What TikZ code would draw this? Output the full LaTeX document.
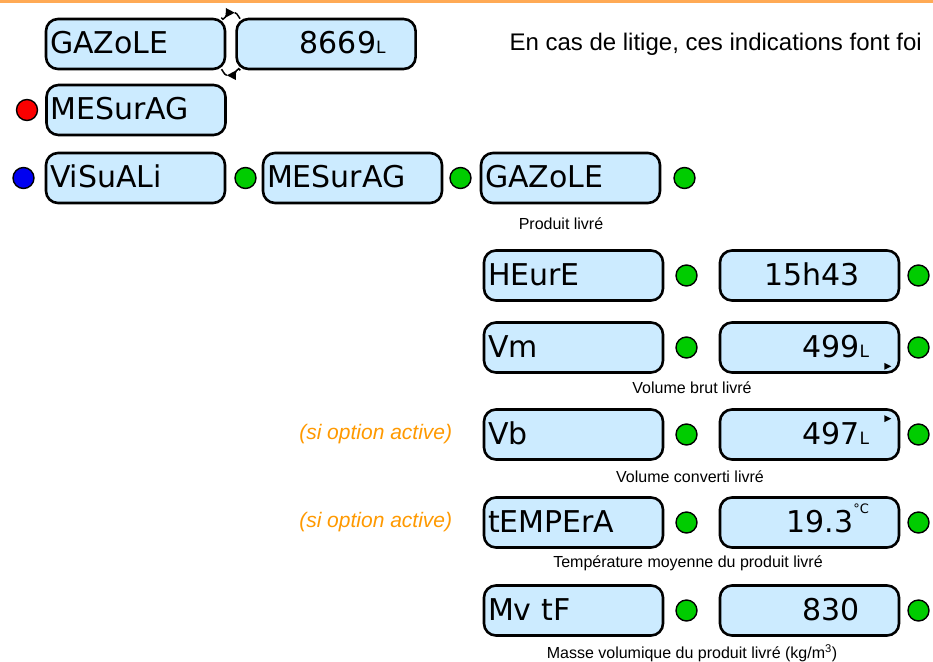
\documentclass[tikz,border=0pt]{standalone}
\usepackage{fontspec}
\setmainfont{Liberation Sans}
\newfontfamily\lcdfont{DejaVu Sans}
\usetikzlibrary{positioning,calc,arrows.meta}

\definecolor{lcdblue}{RGB}{204,235,255}
\definecolor{ledgreen}{RGB}{0,204,0}
\definecolor{ledred}{RGB}{250,0,0}
\definecolor{ledblue}{RGB}{0,0,240}
\definecolor{optorange}{RGB}{255,153,0}
\definecolor{barorange}{RGB}{255,170,85}

\newcommand{\unitsym}[1]{{\fontsize{17}{17}\selectfont #1}}
\newcommand{\degsym}{\raisebox{19pt}{\fontsize{13}{13}\selectfont °C}}

\tikzset{
  lcd/.style={draw, line width=2.6pt, rounded corners=12pt, fill=lcdblue,
    minimum width=179pt, minimum height=50pt, inner sep=0pt,
    text height=19pt, text depth=0pt, font=\lcdfont\fontsize{30}{30}\selectfont},
  menu/.style={lcd, text width=171pt, align=left},
  value/.style={lcd, text width=119pt, align=right},
  led/.style={circle, draw, line width=1.4pt, minimum size=21pt, inner sep=0pt, fill=ledgreen},
  note/.style={font=\fontsize{16}{16}\selectfont},
  option/.style={font=\itshape\fontsize{21}{21}\selectfont, text=optorange},
  toggle/.style={line width=1.5pt},
  tip/.style={toggle, -{Triangle[length=9pt,width=9pt]}}
}

\begin{document}
\begin{tikzpicture}[x=1pt, y=-1pt]
\useasboundingbox (0,0) rectangle (933,661);
\fill[barorange] (0,0) rectangle (933,3);

\node[menu] (gazA) at (135.5,44) {GAZoLE};
\node[value, right=9pt of gazA] (totA) {8669\unitsym{L}};
\coordinate (swapT) at ($(gazA.north east)!0.5!(totA.north west)+(4,-5)$);
\coordinate (swapB) at ($(gazA.south east)!0.5!(totA.south west)+(-4,5)$);
\draw[tip] ([xshift=-5pt]gazA.north east) to[out=-80,in=180] (swapT);
\draw[toggle] (swapT) to[out=0,in=-100] ([xshift=5pt]totA.north west);
\draw[tip] ([xshift=5pt]totA.south west) to[out=100,in=0] (swapB);
\draw[toggle] (swapB) to[out=180,in=80] ([xshift=-5pt]gazA.south east);
\node[anchor=west, font=\fontsize{24}{24}\selectfont] (litige) at (506,44) {En cas de litige, ces indications font foi};

\node[menu] (mesA) at (136,110) {MESurAG};
\node[led, fill=ledred, left=7pt of mesA] (ledA) {};

\node[menu] (visu) at (135.5,178) {ViSuALi};
\node[led, fill=ledblue, left=10pt of visu] (ledB) {};
\node[led, right=8pt of visu] (ledC) {};
\node[menu, right=5pt of ledC] (mesB) {MESurAG};
\node[led, right=6pt of mesB] (ledD) {};
\node[menu, right=8pt of ledD] (gazB) {GAZoLE};
\node[led, right=12pt of gazB] (ledE) {};
\node[note] (prod) at (561,224) {Produit livré};

\node[menu] (heure) at (573.5,275.5) {HEurE};
\node[led, right=11pt of heure] (ledH) {};
\node[value, right=21pt of ledH] (heureV) {15h43\phantom{\unitsym{L}}\hspace{3pt}};
\node[led, right=7pt of heureV] (ledHV) {};

\node[menu] (vm) at (573.5,347.5) {Vm};
\node[led, right=11pt of vm] (ledVm) {};
\node[value, right=21pt of ledVm] (vmV) {499\unitsym{L}};
\node[led, right=7pt of vmV] (ledVmV) {};
\fill ([shift={(-16,-11)}]vmV.south east) -- ++(7,3.5) -- ++(-7,3.5) -- cycle;
\node[note] (brut) at (692,388) {Volume brut livré};

\node[menu] (vb) at (573.5,434.5) {Vb};
\node[option, left=27pt of vb] (optVb) {(si option active)};
\node[led, right=11pt of vb] (ledVb) {};
\node[value, right=21pt of ledVb] (vbV) {497\unitsym{L}};
\node[led, right=7pt of vbV] (ledVbV) {};
\fill ([shift={(-16,7)}]vbV.north east) -- ++(7,3.5) -- ++(-7,3.5) -- cycle;
\node[note] (conv) at (690,477) {Volume converti livré};

\node[menu] (temp) at (573.5,522.5) {tEMPErA};
\node[option, left=27pt of temp] (optT) {(si option active)};
\node[led, right=11pt of temp] (ledT) {};
\node[value, right=21pt of ledT] (tempV) {19.3\degsym};
\node[led, right=7pt of tempV] (ledTV) {};
\node[note] (moy) at (688,563) {Température moyenne du produit livré};

\node[menu] (mv) at (573.5,610.5) {Mv tF};
\node[led, right=11pt of mv] (ledMv) {};
\node[value, right=21pt of ledMv] (mvV) {830\phantom{\unitsym{L}}\hspace{3pt}};
\node[led, right=7pt of mvV] (ledMvV) {};
\node[note] (masse) at (692,653) {Masse volumique du produit livré (kg/m\textsuperscript{3})};
\end{tikzpicture}
\end{document}
